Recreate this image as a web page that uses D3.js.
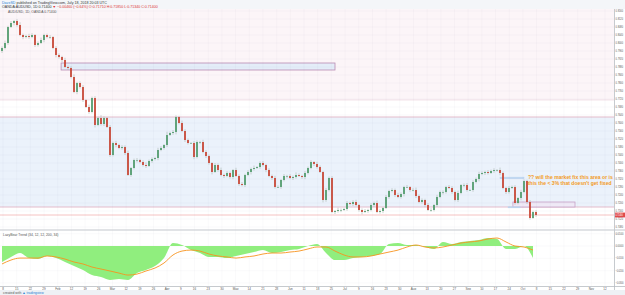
<!DOCTYPE html>
<html><head><meta charset="utf-8">
<script src="https://cdn.jsdelivr.net/npm/d3@7"></script>
<style>body{margin:0;background:#fff;overflow:hidden}svg{display:block;font-family:"Liberation Sans",Arial,sans-serif}</style>
</head><body><svg id="c" width="625" height="295"></svg>
<script>
// ---------- DATA ----------
const firstOpen = 0.7960;
const closes = [
0.7975,0.8000,0.8080,0.8100,0.8110,0.8090,0.8040,0.8030,0.8035,0.8030,
0.8040,0.7990,0.8000,0.8015,0.8040,0.8030,0.8030,0.7975,0.7940,0.7930,
0.7915,0.7880,0.7875,0.7830,0.7755,0.7800,0.7780,0.7715,0.7680,0.7655,
0.7725,0.7590,0.7625,0.7595,0.7625,0.7580,0.7440,0.7500,0.7490,0.7475,
0.7480,0.7450,0.7340,0.7375,0.7415,0.7415,0.7405,0.7390,0.7385,0.7410,
0.7420,0.7425,0.7465,0.7475,0.7490,0.7540,0.7550,0.7555,0.7630,0.7600,
0.7560,0.7515,0.7500,0.7500,0.7430,0.7505,0.7505,0.7455,0.7435,0.7400,
0.7355,0.7390,0.7365,0.7340,0.7335,0.7350,0.7330,0.7365,0.7335,0.7295,
0.7290,0.7340,0.7355,0.7370,0.7375,0.7380,0.7400,0.7390,0.7365,0.7335,
0.7325,0.7280,0.7280,0.7315,0.7335,0.7335,0.7325,0.7330,0.7340,0.7335,
0.7330,0.7350,0.7375,0.7405,0.7395,0.7380,0.7355,0.7215,0.7265,0.7325,
0.7155,0.7160,0.7165,0.7165,0.7170,0.7200,0.7195,0.7205,0.7190,0.7165,
0.7155,0.7160,0.7165,0.7190,0.7200,0.7155,0.7160,0.7175,0.7230,0.7260,
0.7265,0.7240,0.7230,0.7245,0.7280,0.7280,0.7265,0.7265,0.7235,0.7205,
0.7215,0.7190,0.7165,0.7165,0.7190,0.7230,0.7255,0.7255,0.7280,0.7275,
0.7255,0.7215,0.7250,0.7290,0.7290,0.7265,0.7265,0.7305,0.7320,0.7345,
0.7350,0.7355,0.7350,0.7360,0.7365,0.7365,0.7350,0.7275,0.7255,0.7275,
0.7280,0.7200,0.7225,0.7255,0.7310,0.7205,0.7125,0.7155,0.7140];
// wick extensions beyond the body, in pips
const wickHi = [
8,12,6,10,5,9,14,7,6,11, 9,5,8,12,6,7,10,5,9,8, 6,11,7,9,13,6,8,10,5,12,
7,9,6,14,8,5,10,7,11,6, 9,8,12,5,7,10,6,9,13,7, 8,6,11,9,5,16,7,10,8,6,
12,9,7,5,10,8,6,11,9,7, 5,10,8,12,6,9,7,5,11,8, 10,6,9,7,12,5,8,10,6,9,
7,11,8,5,10,6,9,7,13,8, 6,10,7,9,5,11,8,6,10,7, 9,5,12,8,6,10,7,9,11,5,
8,10,6,9,7,12,8,5,10,6, 9,7,11,8,6,10,5,9,12,7, 8,6,10,9,5,11,7,8,6,10,
9,7,12,5,8,10,6,9,7,11, 8,6,10,7,9,5,12,8,6,10, 7,9,5,11,8,6,10,7,9];
const wickLo = [
10,7,9,5,12,8,6,11,7,9, 6,10,8,5,11,7,9,6,12,8, 10,5,9,7,6,11,8,10,5,9,
7,12,6,8,10,5,9,7,11,6, 8,10,5,9,7,12,6,8,10,5, 9,7,11,6,8,10,5,9,12,7,
6,10,8,5,11,7,9,6,10,8, 12,5,9,7,10,6,8,11,5,9, 7,10,6,12,8,5,9,7,11,6,
10,8,5,9,7,12,6,10,8,5, 9,11,7,6,10,8,5,12,9,7, 6,10,8,11,5,9,7,10,6,8,
12,5,9,7,10,6,8,11,5,9, 7,10,6,8,12,5,9,7,10,6, 8,11,5,9,7,10,6,12,8,5,
9,7,10,6,11,8,5,9,7,12, 6,10,8,5,9,7,11,6,10,8, 5,9,7,12,6,10,8,5,9];
// oscillator + signal, one value every 3rd candle
const oscStep = 3;
const osc = [
-0.0130,-0.0089,-0.0057,-0.0098,-0.0106,-0.0081,-0.0098,-0.0130,-0.0163,-0.0195,
-0.0236,-0.0252,-0.0276,-0.0268,-0.0276,-0.0220,-0.0195,-0.0163,-0.0098,0.0024,
0.0008,-0.0033,-0.0057,-0.0089,-0.0089,-0.0098,-0.0081,-0.0065,-0.0049,-0.0033,
-0.0057,-0.0049,-0.0033,-0.0024,0.0000,0.0016,-0.0057,-0.0114,-0.0114,-0.0098,
-0.0089,-0.0081,-0.0065,0.0016,0.0024,0.0008,0.0008,-0.0008,-0.0024,0.0033,
0.0016,0.0033,0.0041,0.0049,0.0065,0.0057,-0.0024,-0.0024,0.0000,-0.0098];
const signal = [
-0.0146,-0.0114,-0.0098,-0.0098,-0.0098,-0.0081,-0.0089,-0.0106,-0.0130,-0.0146,
-0.0171,-0.0187,-0.0203,-0.0220,-0.0236,-0.0228,-0.0203,-0.0179,-0.0138,-0.0073,
-0.0041,-0.0033,-0.0041,-0.0065,-0.0081,-0.0089,-0.0098,-0.0089,-0.0081,-0.0065,
-0.0057,-0.0057,-0.0049,-0.0041,-0.0024,-0.0008,-0.0008,-0.0041,-0.0073,-0.0089,
-0.0089,-0.0081,-0.0065,-0.0049,-0.0033,-0.0008,0.0008,-0.0008,-0.0016,-0.0008,
0.0008,0.0024,0.0033,0.0041,0.0057,0.0065,0.0033,0.0000,-0.0008,-0.0033];
const priceTicks = [0.7080,0.7120,0.7160,0.7200,0.7240,0.7280,0.7320,0.7360,0.7400,0.7440,
0.7480,0.7520,0.7560,0.7600,0.7640,0.7680,0.7720,0.7760,0.7800,0.7840,0.7880,0.7920,
0.7960,0.8000,0.8040,0.8080,0.8120,0.8160];
const oscTicks = [0.0100,0.0000,-0.0100,-0.0200,-0.0300];
const dateLabels = ["8","15","22","29","Feb","12","19","26","Mar","12","19","26","Apr","9","16","23","30",
"May","14","21","28","Jun","11","18","25","Jul","9","16","23","30","Aug","13","20","27","Sep","10","17",
"24","Oct","8","15","22","29","Nov","12"];
// zones: [priceTop, priceBottom, idxStart, idxEnd, kind]
const zones = [
  [0.8300, 0.7715, -5, 230, "pink"],
  [0.7630, 0.7180, -5, 230, "blue"],
  [0.7900, 0.7865, 19.7, 111, "boxA"],
  [0.7205, 0.7180, 170.3, 191, "boxB"],
  [0.7329, 0.7322, 166, 174, "line"],
  [0.7181, 0.7176, 168.7, 172.7, "line"]
];
const lastPrice = 0.7140;
const noteLines = ["?? will the market fix this area or is", "this the < 3% that doesn't get fixed"];
const noteAnchor = [175.3, 0.7318];

// ---------- LAYOUT ----------
const W = 625, H = 295;
const plotL = 0, plotR = 614;
const mainT = 9, mainB = 229;
const indT = 231, indB = 286;
const svg = d3.select("#c");

const x = d3.scaleLinear().domain([0, closes.length - 1]).range([2, 536]);
const y = d3.scaleLinear().domain([0.7070, 0.8170]).range([mainB, mainT]);
const yi = d3.scaleLinear().domain([-0.0325, 0.0122]).range([indB, indT]);
const xd = d3.scalePoint().domain(d3.range(dateLabels.length)).range([3, 605]);

// header
svg.append("rect").attr("x",0).attr("y",0).attr("width",W).attr("height",mainT).attr("fill","#f4f6f9");
const h1 = svg.append("text").attr("x",2).attr("y",3.6).attr("font-size",3.6).attr("fill","#333");
h1.append("tspan").attr("fill","#2a7fd4").text("DaveSD ");
h1.append("tspan").text("published on TradingView.com, July 18, 2018 20:03 UTC");
const h2 = svg.append("text").attr("x",2).attr("y",7.6).attr("font-size",3.6).attr("fill","#333");
h2.append("tspan").text("OANDA:AUDUSD, 1D  0.71400  ");
h2.append("tspan").attr("fill","#d33").text("▼ −0.00460 (−0.64%)  O:0.71710  H:0.71850  L:0.71340  C:0.71400");

// clip
svg.append("clipPath").attr("id","mc").append("rect").attr("x",plotL).attr("y",mainT).attr("width",plotR-plotL).attr("height",mainB-mainT);
const main = svg.append("g").attr("clip-path","url(#mc)");
main.append("rect").attr("x",plotL).attr("y",mainT).attr("width",plotR).attr("height",mainB-mainT).attr("fill","#ffffff");

// zones
const zoneStyle = {
  pink:{fill:"#fcf5f8", stroke:"#f1dbe3", sw:0.8},
  blue:{fill:"#ebf2fb", stroke:"#e4bccb", sw:1},
  boxA:{fill:"#e4edf8", stroke:"#b88bb2", sw:0.8},
  boxB:{fill:"#efe9f6", stroke:"#c9a2c9", sw:0.8},
  line:{fill:"#bcd5f0", stroke:"#bcd5f0", sw:0.6}
};
zones.forEach(z => {
  const s = zoneStyle[z[4]];
  main.append("rect").attr("x",x(z[2])).attr("y",y(z[0])).attr("width",x(z[3])-x(z[2]))
    .attr("height",y(z[1])-y(z[0])).attr("fill",s.fill).attr("stroke",s.stroke).attr("stroke-width",s.sw);
});

// grid
const gridC = "rgba(120,120,150,0.07)";
main.selectAll(".hg").data(priceTicks).join("line").attr("x1",plotL).attr("x2",plotR)
  .attr("y1",d=>y(d)).attr("y2",d=>y(d)).attr("stroke",gridC).attr("stroke-width",0.6);
svg.selectAll(".vg").data(dateLabels.map((d,i)=>i)).join("line")
  .attr("x1",d=>xd(d)).attr("x2",d=>xd(d)).attr("y1",mainT).attr("y2",indB)
  .attr("stroke",gridC).attr("stroke-width",0.6);

// price line
main.append("line").attr("x1",plotL).attr("x2",plotR).attr("y1",y(lastPrice)).attr("y2",y(lastPrice))
  .attr("stroke","#f2b3b3").attr("stroke-width",0.8);

// candles
const candles = closes.map((c,i)=>{
  const o = i===0 ? firstOpen : closes[i-1];
  return {i, o, c, h: Math.max(o,c)+wickHi[i]/10000, l: Math.min(o,c)-wickLo[i]/10000};
});
const upC = "#4e9a6a", dnC = "#c8412f";
main.selectAll(".wk").data(candles).join("line")
  .attr("x1",d=>x(d.i)).attr("x2",d=>x(d.i)).attr("y1",d=>y(d.h)).attr("y2",d=>y(d.l))
  .attr("stroke","#aab6b0").attr("stroke-width",0.6);
main.selectAll(".bd").data(candles).join("rect")
  .attr("x",d=>x(d.i)-0.85).attr("width",1.7)
  .attr("y",d=>y(Math.max(d.o,d.c))).attr("height",d=>Math.max(0.6, Math.abs(y(d.o)-y(d.c))))
  .attr("fill",d=>d.c>=d.o?upC:dnC);

// note text
const nt = main.append("text").attr("font-size",5.1).attr("font-weight","bold").attr("fill","#f39a1e");
noteLines.forEach((t,k)=>nt.append("tspan").attr("x",x(noteAnchor[0])).attr("y",y(noteAnchor[1])+k*5.4).text(t));

// pane title
svg.append("text").attr("x",8).attr("y",13).attr("font-size",3.4).attr("fill","#555")
  .text("AUD/USD, 1D, OANDA  0.71400");

// price axis
const axW = W - plotR - 2.5;
svg.append("rect").attr("x",plotR).attr("y",mainT).attr("width",W-plotR).attr("height",H-mainT).attr("fill","#fff");
svg.append("line").attr("x1",plotR+0.5).attr("x2",plotR+0.5).attr("y1",mainT).attr("y2",indB+5).attr("stroke","#b8bcc2").attr("stroke-width",0.8);
svg.selectAll(".pt").data(priceTicks).join("text").attr("x",plotR+1.6).attr("y",d=>y(d)+1.1)
  .attr("font-size",3.2).attr("fill","#555").attr("textLength",axW-1).attr("lengthAdjust","spacingAndGlyphs")
  .text(d3.format(".4f"));
svg.append("rect").attr("x",plotR+1).attr("y",y(lastPrice)-2.4).attr("width",W-plotR-1).attr("height",4.8).attr("fill","#e04a4a");
svg.append("text").attr("x",plotR+1.5).attr("y",y(lastPrice)+1.0).attr("font-size",2.9).attr("fill","#fff")
  .attr("textLength",axW-1.2).attr("lengthAdjust","spacingAndGlyphs").text(d3.format(".5f")(lastPrice));

// indicator pane
svg.append("line").attr("x1",0).attr("x2",W).attr("y1",mainB+1).attr("y2",mainB+1).attr("stroke","#c3c7cd").attr("stroke-width",1.2);
svg.selectAll(".ig").data(oscTicks).join("line").attr("x1",plotL).attr("x2",plotR)
  .attr("y1",d=>yi(d)).attr("y2",d=>yi(d)).attr("stroke",gridC).attr("stroke-width",0.6);
const od = osc.map((v,k)=>({i:k*oscStep, v}));
const sd = signal.map((v,k)=>({i:k*oscStep, v}));
svg.append("path").datum(od).attr("d", d3.area().x(d=>x(d.i)).y0(yi(0)).y1(d=>yi(d.v)).curve(d3.curveMonotoneX))
  .attr("fill","#90ee7e");
svg.append("path").datum(sd).attr("d", d3.line().x(d=>x(d.i)).y(d=>yi(d.v)).curve(d3.curveMonotoneX))
  .attr("fill","none").attr("stroke","#f7931e").attr("stroke-width",0.9);
svg.append("text").attr("x",3).attr("y",236).attr("font-size",3.4).attr("fill","#555")
  .text("LazyBear Trend (34, 12, 12, 200, 34)");
svg.selectAll(".it").data(oscTicks).join("text").attr("x",plotR+1.4).attr("y",d=>yi(d)+1.1)
  .attr("font-size",3.0).attr("fill","#555").attr("textLength",axW-0.5).attr("lengthAdjust","spacingAndGlyphs")
  .text(d3.format(".4f"));

// time axis
svg.append("line").attr("x1",0).attr("x2",W).attr("y1",indB+0.5).attr("y2",indB+0.5).attr("stroke","#b8bcc2").attr("stroke-width",0.8);
svg.selectAll(".dl").data(dateLabels).join("text").attr("x",(d,i)=>xd(i)).attr("y",indB+3.6)
  .attr("text-anchor","middle").attr("font-size",3.0).attr("fill","#555").text(d=>d);

// footer
svg.append("rect").attr("x",0).attr("y",290).attr("width",W).attr("height",5).attr("fill","#eef1f5");
const ft = svg.append("text").attr("x",3).attr("y",293.6).attr("font-size",3.4).attr("fill","#555");
ft.append("tspan").text("created with ");
ft.append("tspan").attr("fill","#2a7fd4").text("▲ tradingview");
</script></body></html>
